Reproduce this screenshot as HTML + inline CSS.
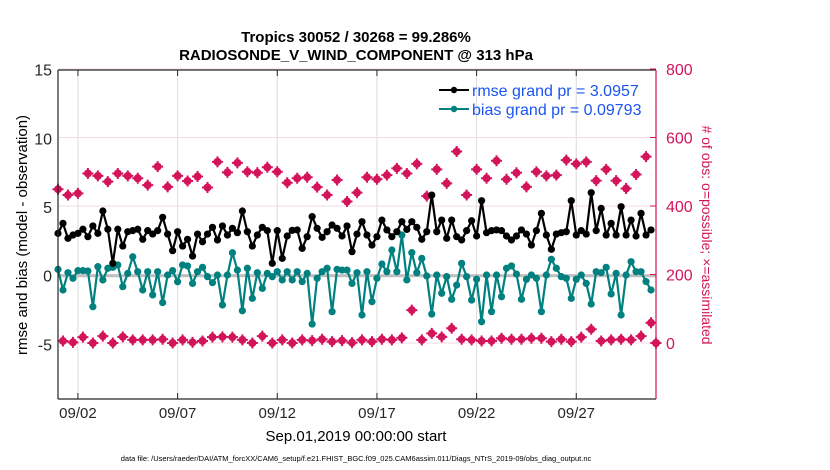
<!DOCTYPE html>
<html><head><meta charset="utf-8"><style>
html,body{margin:0;padding:0;background:#fff}
svg{display:block;font-family:"Liberation Sans",Arial,sans-serif}
</style></head><body>
<svg id="chart" width="830" height="470" viewBox="0 0 830 470" xmlns="http://www.w3.org/2000/svg">
<rect width="830" height="470" fill="#fff"/>
<text x="356" y="42" text-anchor="middle" font-size="15" font-weight="bold">Tropics 30052 / 30268 = 99.286%</text>
<text x="356" y="60" text-anchor="middle" font-size="15" font-weight="bold">RADIOSONDE_V_WIND_COMPONENT @ 313 hPa</text>
<g id="grid"></g>
<g id="marks"></g>
<g id="axes"></g>
<text transform="translate(27,235) rotate(-90)" text-anchor="middle" font-size="15">rmse and bias (model - observation)</text>
<text transform="translate(702,235) rotate(90)" text-anchor="middle" font-size="14" fill="#d4145a"># of obs: o=possible; ×=assimilated</text>
<text x="356" y="441" text-anchor="middle" font-size="15">Sep.01,2019 00:00:00 start</text>
<text x="356" y="461" text-anchor="middle" font-size="7.5">data file: /Users/raeder/DAI/ATM_forcXX/CAM6_setup/f.e21.FHIST_BGC.f09_025.CAM6assim.011/Diags_NTrS_2019-09/obs_diag_output.nc</text>
<g id="legend"></g>
</svg>
<script>
const rmse=[3.08,3.81,2.72,2.96,3.08,3.38,2.84,3.62,3.08,4.71,3.38,0.90,3.38,2.16,3.20,3.28,3.38,2.65,3.28,3.03,3.28,4.25,3.03,1.82,3.20,2.16,2.65,1.43,3.03,2.47,3.03,3.52,2.60,3.62,2.96,3.45,3.13,4.71,3.20,2.16,2.96,3.52,3.28,0.90,3.28,1.26,2.89,3.30,3.33,1.99,2.84,4.30,3.45,2.79,3.20,3.69,3.45,2.89,3.62,1.75,3.03,3.93,2.96,2.23,2.84,4.05,3.33,2.84,3.20,3.93,3.37,3.93,3.52,2.65,3.20,5.87,3.20,4.05,2.72,4.05,2.84,2.60,3.28,4.00,2.89,5.46,3.13,3.28,3.33,3.28,2.89,2.60,2.89,3.33,3.03,2.23,3.28,4.54,2.96,1.92,3.03,3.13,3.20,5.46,2.96,3.28,3.03,6.04,3.28,4.90,2.96,3.81,2.96,5.02,2.96,4.05,2.89,4.54,2.96,3.33];
const bias=[0.46,-1.04,0.22,-0.19,0.37,0.37,0.34,-2.26,0.66,-0.31,0.54,0.61,0.78,-0.80,0.17,1.38,0.29,-1.04,0.29,-1.40,0.29,-1.96,0.05,0.37,-0.44,0.78,0.71,-0.56,0.29,0.61,-0.07,-0.51,0.05,-2.13,0.05,1.67,0.41,-2.55,0.54,-1.65,0.22,-0.92,0.17,-0.07,0.29,-0.31,0.29,-0.31,0.29,-0.43,0.17,-3.52,-0.19,0.29,0.54,-2.62,0.46,0.41,0.41,-0.56,0.22,-2.86,0.29,-1.89,-0.19,0.85,0.29,1.87,0.29,2.96,-0.31,1.68,0.22,1.26,-0.02,-2.79,0.05,-1.28,-0.07,-1.72,-0.68,0.90,-0.07,-1.77,-0.26,-3.35,0.05,-2.62,0.05,-1.53,0.54,0.71,0.12,-1.72,-0.26,0.05,-0.19,-2.62,0.05,1.19,0.54,-0.07,-0.19,-1.65,-0.26,0.05,-0.56,-2.06,0.29,0.22,0.61,-1.33,0.17,-2.86,0.05,1.02,0.29,0.29,-0.43,-1.04];
const obsCount=[449,6,432,2,437,17,495,0,488,20,471,0,495,18,488,9,481,9,461,9,515,11,456,0,488,9,473,2,486,6,454,17,529,18,498,17,526,9,500,0,497,20,513,0,500,9,468,0,481,9,484,7,455,11,432,4,476,7,413,1,439,9,484,4,478,11,490,9,510,15,495,96,523,9,429,28,507,18,466,43,559,11,432,9,507,6,481,6,532,14,478,11,497,11,456,14,500,14,488,4,490,11,534,4,523,17,529,40,474,6,507,9,474,11,451,9,492,20,544,59,0];
const xTickDays=[1,6,11,16,21,26];
const xTickLabels=["09/02","09/07","09/12","09/17","09/22","09/27"];
const leftTicks=[15,10,5,0,-5];
const rightTicks=[800,600,400,200,0];
const legendLabels=["rmse grand pr = 3.0957","bias grand pr = 0.09793"];

const X0=58,X1=656,Y0=70,Y1=399;
const NS="http://www.w3.org/2000/svg";
const xS=d=>X0+(d/30)*(X1-X0);
const yL=v=>275.7-v*13.74;
const yR=n=>343-n*0.3425;
const stepDays=0.25;
function mk(tag,attrs,parent){const e=document.createElementNS(NS,tag);for(const k in attrs)e.setAttribute(k,attrs[k]);parent.appendChild(e);return e;}
const grid=document.getElementById('grid'),marks=document.getElementById('marks'),axes=document.getElementById('axes'),legend=document.getElementById('legend');
const RED="#d4145a",TEAL="#00807f";

xTickDays.forEach((d,i)=>{
  const l=mk('line',{x1:xS(d),x2:xS(d),y1:Y0,y2:Y1,stroke:"#dcdcdc","stroke-width":1},grid);
  
  
});
rightTicks.forEach(n=>{
  const l=mk('line',{x1:X0,x2:X1,y1:yR(n),y2:yR(n),stroke:"#f6dbe5","stroke-width":1},grid);
  
  
});
const zl=mk('line',{x1:X0,x2:X1,y1:yL(0),y2:yL(0),stroke:"#bfbfbf","stroke-width":3},grid);



obsCount.forEach((n,i)=>{
  const cx=xS(i*stepDays),cy=yR(n);
  const g=mk('g',{},marks);
  
  
  mk('circle',{cx:cx,cy:cy,r:4,fill:RED},g);
  mk('path',{d:`M${cx-5.5},${cy}H${cx+5.5}M${cx},${cy-5.5}V${cy+5.5}`,stroke:RED,"stroke-width":2},g);
});

function series(vals,color,name){
  const pts=vals.map((v,i)=>[xS(i*stepDays),yL(v)]);
  const p=mk('polyline',{points:pts.map(p=>p.join(',')).join(' '),fill:"none",stroke:color,"stroke-width":2.2,"stroke-linejoin":"round"},marks);
  
  
  pts.forEach(q=>{
    const c=mk('circle',{cx:q[0],cy:q[1],r:3.6,fill:color},marks);
    
    
  });
}
series(bias,TEAL,'bias');
series(rmse,"#000",'rmse');

mk('line',{x1:X0,x2:X1,y1:Y0,y2:Y0,stroke:"#262626","stroke-width":1.2},axes);
mk('line',{x1:X0,x2:X1,y1:Y1,y2:Y1,stroke:"#262626","stroke-width":1.2},axes);
mk('line',{x1:X0,x2:X0,y1:Y0,y2:Y1,stroke:"#262626","stroke-width":1.2},axes);
mk('line',{x1:X1,x2:X1,y1:Y0,y2:Y1,stroke:RED,"stroke-width":1.2},axes);
xTickDays.forEach((d,i)=>{
  mk('line',{x1:xS(d),x2:xS(d),y1:Y1,y2:Y1-6,stroke:"#262626"},axes);
  mk('line',{x1:xS(d),x2:xS(d),y1:Y0,y2:Y0+6,stroke:"#262626"},axes);
  const t=mk('text',{x:xS(d),y:418,"text-anchor":"middle","font-size":15,fill:"#262626"},axes);
  t.textContent=xTickLabels[i];
  
  
});
leftTicks.forEach(v=>{
  const t=mk('text',{x:52,y:yL(v)+6,"text-anchor":"end","font-size":16,fill:"#262626"},axes);
  t.textContent=v;
  
  
});
rightTicks.forEach(n=>{
  mk('line',{x1:X1,x2:X1-6,y1:yR(n),y2:yR(n),stroke:RED},axes);
  const t=mk('text',{x:666,y:yR(n)+6,"text-anchor":"start","font-size":16,fill:RED},axes);
  t.textContent=n;
  
  
});

[["#000",90],[TEAL,109]].forEach((s,i)=>{
  const g=mk('g',{},legend);
  
  
  mk('line',{x1:439,x2:469,y1:s[1],y2:s[1],stroke:s[0],"stroke-width":2},g);
  mk('circle',{cx:454,cy:s[1],r:3.2,fill:s[0]},g);
  const t=mk('text',{x:472,y:s[1]+6,"font-size":16,fill:"#1a55f0"},g);
  t.textContent=legendLabels[i];
});
</script>
</body></html>
